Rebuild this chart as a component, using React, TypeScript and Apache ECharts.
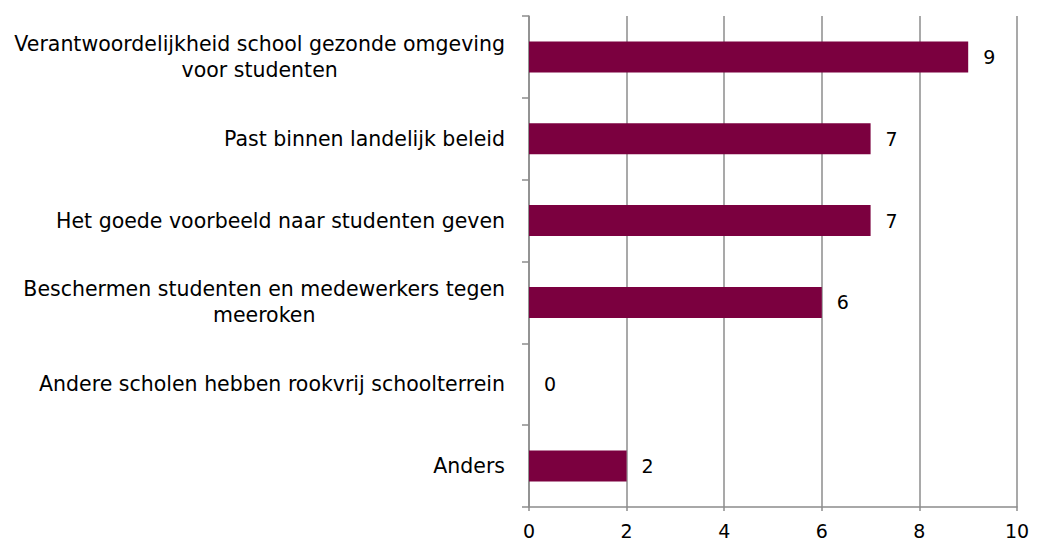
import React, { useEffect, useRef } from "react";
import * as echarts from "echarts";

const categories = [
  "Verantwoordelijkheid school gezonde omgeving\nvoor studenten",
  "Past binnen landelijk beleid",
  "Het goede voorbeeld naar studenten geven",
  "Beschermen studenten en medewerkers tegen\nmeeroken",
  "Andere scholen hebben rookvrij schoolterrein",
  "Anders",
];
const values = [9, 7, 7, 6, 0, 2];
const xMin = 0;
const xMax = 10;
const xInterval = 2;

const FONT = "DejaVu Sans";

export default function App() {
  const ref = useRef<HTMLDivElement>(null);
  useEffect(() => {
    if (!ref.current) return;
    const chart = echarts.init(ref.current, null, { renderer: "svg" });
    chart.setOption({
      animation: false,
      backgroundColor: "#ffffff",
      grid: { left: 529, right: 39, top: 16, bottom: 35, containLabel: false },
      xAxis: {
        type: "value",
        min: xMin,
        max: xMax,
        interval: xInterval,
        axisLine: { show: true, lineStyle: { color: "#8c8c8c", width: 1.5 } },
        axisTick: { show: true, length: 4, lineStyle: { color: "#8c8c8c", width: 1.5 } },
        splitLine: { show: true, lineStyle: { color: "#8c8c8c", width: 1.5 } },
        axisLabel: { color: "#000", fontFamily: FONT, fontSize: 19, margin: 14 },
      },
      yAxis: {
        type: "category",
        inverse: true,
        data: categories,
        axisLine: { show: true, lineStyle: { color: "#8c8c8c", width: 1.5 } },
        axisTick: { show: true, length: 7, alignWithLabel: false, lineStyle: { color: "#8c8c8c", width: 1.5 } },
        axisLabel: {
          color: "#000",
          fontFamily: FONT,
          fontSize: 20.5,
          margin: 24,
          align: "right",
          lineHeight: 26,
          formatter: (v: string) =>
            v
              .split("\n")
              .map((s) => "{c|" + s + "}")
              .join("\n"),
          rich: {
            c: { align: "center", fontFamily: FONT, fontSize: 20.5, color: "#000", lineHeight: 26 },
          },
        },
      },
      series: [
        {
          type: "bar",
          data: values,
          barWidth: 31,
          itemStyle: { color: "#7b003f" },
          label: {
            show: true,
            position: "right",
            distance: 15,
            color: "#000",
            fontFamily: FONT,
            fontSize: 19,
          },
        },
      ],
    });
    return () => chart.dispose();
  }, []);
  return (
    <div
      ref={ref}
      style={{ position: "fixed", left: 0, top: 0, width: 1056, height: 542, background: "#fff" }}
    />
  );
}
